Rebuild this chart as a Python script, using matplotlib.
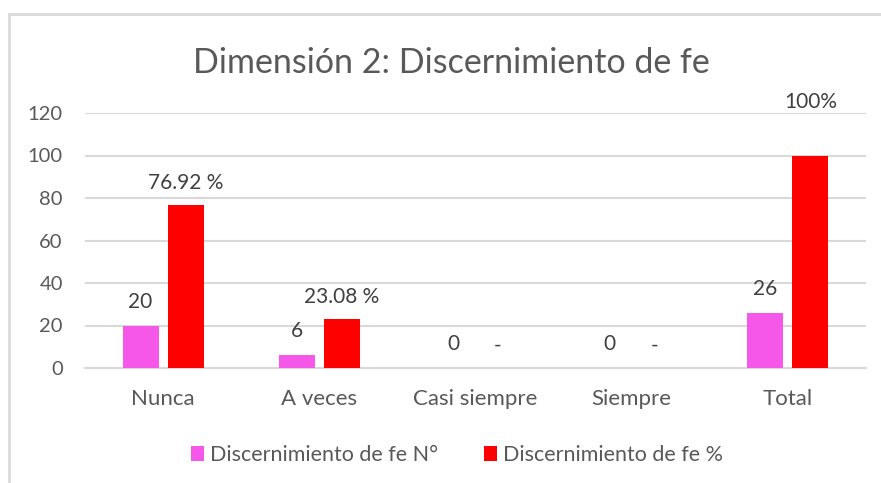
import matplotlib
matplotlib.use("Agg")
import matplotlib.pyplot as plt
import numpy as np
from matplotlib.patches import Rectangle

categories = ["Nunca", "A veces", "Casi siempre", "Siempre", "Total"]
n_values = [20, 6, 0, 0, 26]
pct_values = [76.92, 23.08, 0, 0, 100]
n_labels = ["20", "6", "0", "0", "26"]
pct_labels = ["76.92 %", "23.08 %", "-", "-", "100%"]
series_names = ["Discernimiento de fe N°", "Discernimiento de fe %"]
title = "Dimensión 2: Discernimiento de fe"
yticks = [0, 20, 40, 60, 80, 100, 120]

W, H = 881, 483
DPI = 100
plt.rcParams['font.family'] = ['Lato', 'DejaVu Sans']
fig = plt.figure(figsize=(W / DPI, H / DPI), dpi=DPI)
fig.patch.set_facecolor("white")

left, right, top, bottom = 85, 866, 113, 368
ax = fig.add_axes([left / W, 1 - bottom / H, (right - left) / W, (bottom - top) / H])

x = np.arange(len(categories))
bw = 0.23
off = 0.144
c1 = "#F557E9"
c2 = "#FF0000"
b1 = ax.bar(x - off, n_values, bw, color=c1, label=series_names[0], zorder=3)
b2 = ax.bar(x + off, pct_values, bw, color=c2, label=series_names[1], zorder=3)

ax.set_ylim(0, 120)
ax.set_xlim(-0.5, len(categories) - 0.5)
ax.set_yticks(yticks)
ax.set_xticks(x)
ax.set_xticklabels(categories)
ax.yaxis.grid(True, color="#d9d9d9", linewidth=1.5, zorder=0)
ax.set_axisbelow(True)
for s in ["top", "right", "left"]:
    ax.spines[s].set_visible(False)
ax.spines["bottom"].set_color("#d9d9d9")
ax.spines["bottom"].set_linewidth(1.5)
ax.tick_params(axis="both", length=0, colors="#595959")
ax.tick_params(axis="y", pad=16, labelsize=14.5)
ax.tick_params(axis="x", pad=15, labelsize=16)

px = 72 / DPI
lab_col = "#404040"
for i in range(len(categories)):
    ax.annotate(n_labels[i], (x[i] - off, n_values[i]), xytext=(0, 24 * px),
                textcoords="offset points", ha="center", va="center",
                fontsize=15, color=lab_col)
    dy = 53 if i == 4 else 22
    ax.annotate(pct_labels[i], (x[i] + off, pct_values[i]), xytext=(0, dy * px),
                textcoords="offset points", ha="center", va="center",
                fontsize=15, color=lab_col, annotation_clip=False)

fig.text(451 / W, 1 - 63 / H, title, ha="center", va="center", fontsize=24.5, color="#595959")

leg = fig.legend(handles=[b1, b2], labels=series_names, loc="center",
                 bbox_to_anchor=(457 / W, 1 - 455 / H), ncol=2, frameon=False,
                 fontsize=15.5, handlelength=0.6, handleheight=0.7, handletextpad=0.28,
                 columnspacing=2.1, borderpad=0.2)
for t in leg.get_texts():
    t.set_color("#595959")

fig.add_artist(Rectangle((8.5 / W, -0.1), 1.2, 1 - 14.5 / H + 0.1,
                         transform=fig.transFigure, fill=False,
                         edgecolor="#d9d9d9", linewidth=2))

fig.savefig("out.png", dpi=DPI)
